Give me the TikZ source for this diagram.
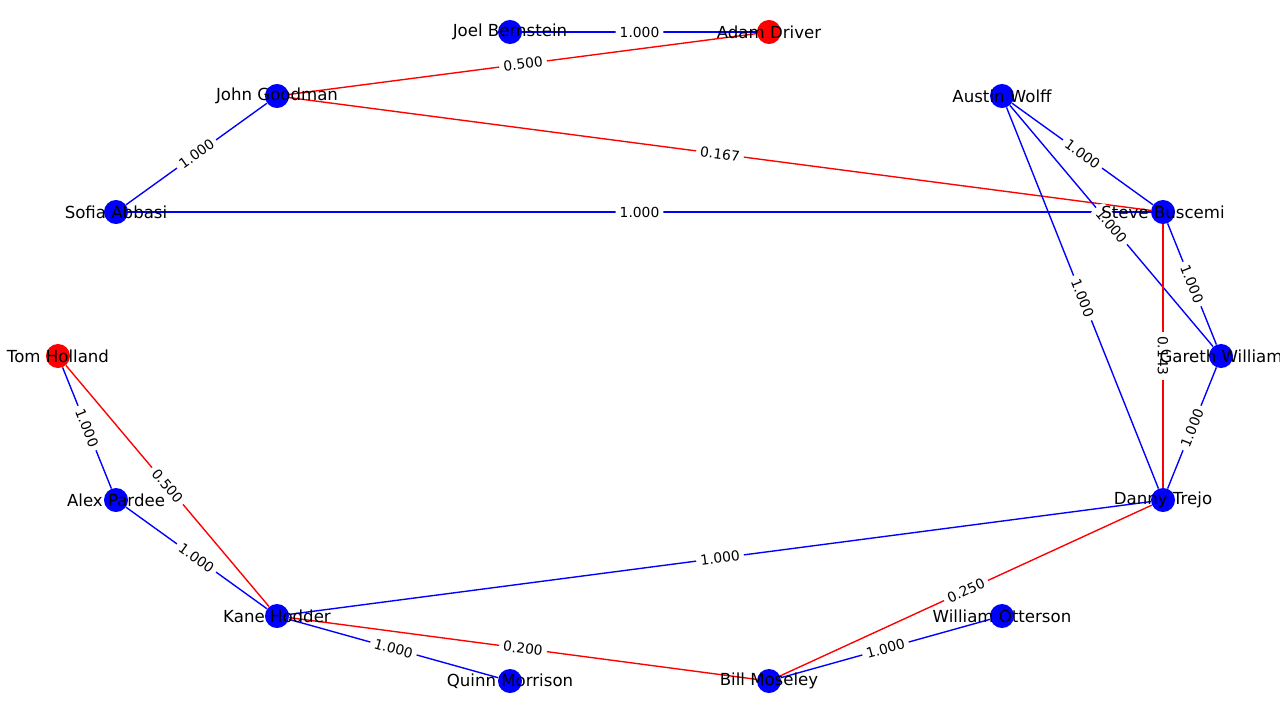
\documentclass[tikz,border=0pt]{standalone}
\usepackage{fontspec}
\setmainfont{DejaVu Sans}
\begin{document}
\begin{tikzpicture}[x=0.254mm,y=-0.254mm,
    actor/.style={circle,fill=blue,minimum size=6.1mm,inner sep=0pt},
    hot/.style={actor,fill=red},
    who/.style={font=\fontsize{12}{14}\selectfont,inner sep=0pt},
    tie/.style={draw=blue,line width=1pt},
    weak/.style={draw=red,line width=1pt},
    wt/.style={sloped,midway,fill=white,rounded corners=3pt,inner sep=3pt,font=\fontsize{10}{12}\selectfont}]
    \useasboundingbox (0,0) rectangle (1280,714);
    \node[actor] (joel) at (510,32) {};
    \node[hot] (adam) at (769,32) {};
    \node[actor] (john) at (277,96) {};
    \node[actor] (austin) at (1002,96) {};
    \node[actor] (sofia) at (116,212) {};
    \node[actor] (steve) at (1163,212) {};
    \node[hot] (tom) at (58,356) {};
    \node[actor] (gareth) at (1221,356) {};
    \node[actor] (alex) at (116,500) {};
    \node[actor] (danny) at (1163,500) {};
    \node[actor] (kane) at (277,616) {};
    \node[actor] (william) at (1002,616) {};
    \node[actor] (quinn) at (510,681) {};
    \node[actor] (bill) at (769,681) {};
    \draw[tie] (joel) -- (adam) node[wt]{1.000};
    \draw[weak] (john) -- (adam) node[wt]{0.500};
    \draw[tie] (sofia) -- (john) node[wt]{1.000};
    \draw[weak] (john) -- (steve) node[wt]{0.167};
    \draw[tie] (sofia) -- (steve) node[wt]{1.000};
    \draw[tie] (austin) -- (steve) node[wt]{1.000};
    \draw[tie] (austin) -- (gareth) node[wt]{1.000};
    \draw[tie] (austin) -- (danny) node[wt]{1.000};
    \draw[tie] (steve) -- (gareth) node[wt]{1.000};
    \draw[weak] (steve) -- (danny) node[wt]{0.143};
    \draw[tie] (gareth) -- (danny) node[wt]{1.000};
    \draw[tie] (tom) -- (alex) node[wt]{1.000};
    \draw[weak] (tom) -- (kane) node[wt]{0.500};
    \draw[tie] (alex) -- (kane) node[wt]{1.000};
    \draw[tie] (kane) -- (danny) node[wt]{1.000};
    \draw[tie] (kane) -- (quinn) node[wt]{1.000};
    \draw[weak] (kane) -- (bill) node[wt]{0.200};
    \draw[weak] (bill) -- (danny) node[wt]{0.250};
    \draw[tie] (bill) -- (william) node[wt]{1.000};
    \node[who] at (joel) {Joel Bernstein};
    \node[who] at (adam) {Adam Driver};
    \node[who] at (john) {John Goodman};
    \node[who] at (austin) {Austin Wolff};
    \node[who] at (sofia) {Sofia Abbasi};
    \node[who] at (steve) {Steve Buscemi};
    \node[who] at (tom) {Tom Holland};
    \node[who] at (gareth) {Gareth William};
    \node[who] at (alex) {Alex Pardee};
    \node[who] at (danny) {Danny Trejo};
    \node[who] at (kane) {Kane Hodder};
    \node[who] at (william) {William Otterson};
    \node[who] at (quinn) {Quinn Morrison};
    \node[who] at (bill) {Bill Moseley};
\end{tikzpicture}
\end{document}
